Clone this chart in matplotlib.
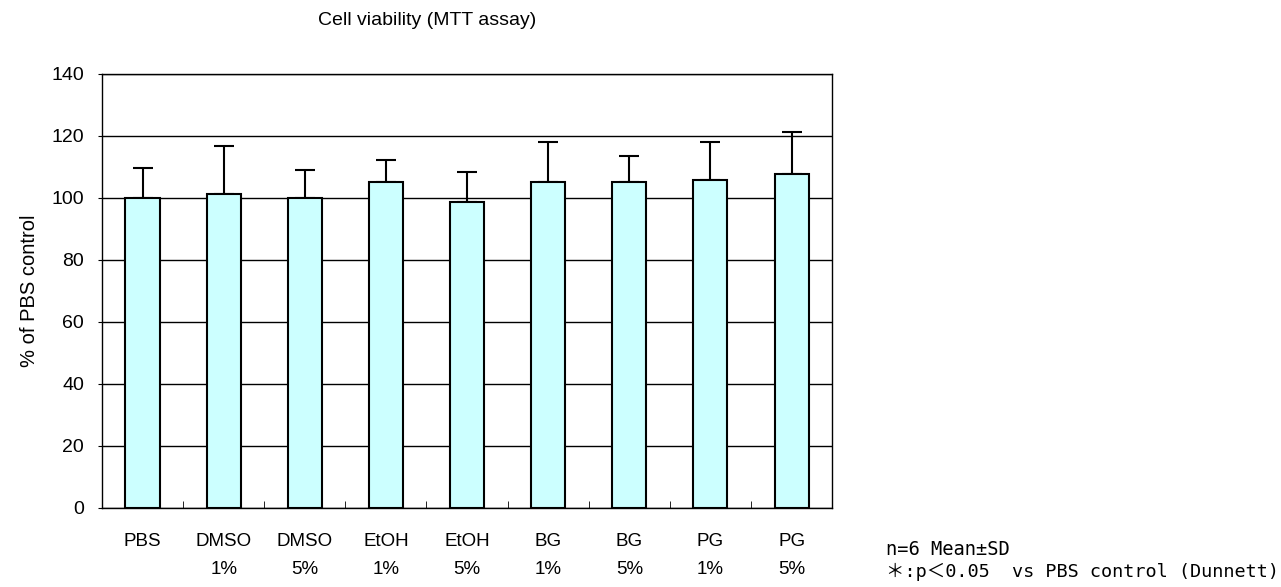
import numpy as np
import matplotlib.pyplot as plt

plt.rcParams['font.family'] = ['Liberation Sans', 'Noto Sans CJK JP']

labels = ['PBS', 'DMSO\n1%', 'DMSO\n5%', 'EtOH\n1%', 'EtOH\n5%',
          'BG\n1%', 'BG\n5%', 'PG\n1%', 'PG\n5%']
means = [100.0, 101.2, 100.0, 105.1, 98.6, 105.2, 105.2, 105.8, 107.7]
sds = [9.6, 15.6, 9.0, 7.2, 9.7, 12.8, 8.3, 12.2, 13.6]

fig = plt.figure(figsize=(12.81, 5.87), dpi=100)
ax = fig.add_axes([0.0796, 0.1346, 0.57, 0.7394])

x = np.arange(len(labels))
ax.bar(x, means, width=0.42, color='#ccffff', edgecolor='black', linewidth=1.5, zorder=3)
ax.errorbar(x, means, yerr=[np.zeros(len(sds)), sds], fmt='none', ecolor='black',
            elinewidth=1.5, capsize=7, capthick=1.5, zorder=2)

ax.set_xlim(-0.5, len(labels) - 0.5)
ax.set_ylim(0, 140)
ax.set_yticks(np.arange(0, 141, 20))
ax.yaxis.grid(True, color='black', linewidth=1)
ax.set_axisbelow(True)
ax.tick_params(axis='y', length=3, labelsize=14, pad=10)

ax.set_xticks(x)
ax.set_xticklabels(labels, fontsize=13.5, linespacing=1.85, va='top')
ax.tick_params(axis='x', length=0, pad=18)
ax.set_xticks(np.arange(0.5, len(labels) - 0.5, 1), minor=True)
ax.tick_params(axis='x', which='minor', direction='in', length=5)

for s in ax.spines.values():
    s.set_linewidth(1)

ax.set_ylabel('% of PBS control', fontsize=14.5, labelpad=9)

fig.text(0.3337, 0.957, 'Cell viability (MTT assay)', ha='center', va='baseline', fontsize=14)

note_font = ['DejaVu Sans Mono', 'Noto Sans CJK JP']
fig.text(0.6917, 0.0545, 'n=6 Mean±SD', ha='left', va='baseline', fontsize=13.5, family=note_font)
fig.text(0.6917, 0.017, '＊:p＜0.05  vs PBS control (Dunnett)', ha='left', va='baseline',
         fontsize=13.3, family=note_font)

fig.savefig('out.png', dpi=100)
